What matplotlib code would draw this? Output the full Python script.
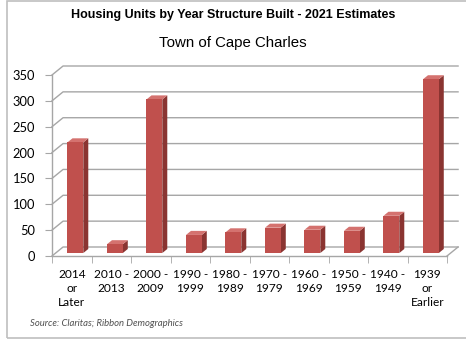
import numpy as np
import matplotlib.pyplot as plt
from matplotlib.patches import Polygon, Rectangle

# housing units by year structure built, Town of Cape Charles
periods = ['2014\nor\nLater', '2010 -\n2013', '2000 -\n2009', '1990 -\n1999',
           '1980 -\n1989', '1970 -\n1979', '1960 -\n1969', '1950 -\n1959',
           '1940 -\n1949', '1939\nor\nEarlier']
units = [214, 17, 297, 35, 40, 49, 45, 43, 72, 336]
yticks = [0, 50, 100, 150, 200, 250, 300, 350]

n = len(units)
# fake 3d depth (in data units) and bar placement inside the depth
ddx, ddy = 0.28, 17.4
d0, d1 = 0.33, 0.78
bw = 0.40

front = '#C0504D'
side = '#8A3431'
top = '#D4726F'
grid = '#A6A6A6'

fig = plt.figure(figsize=(4.66, 3.39), dpi=100)
fig.patches.append(Rectangle((7 / 466, 0.003), 1.2, 0.994, transform=fig.transFigure,
                             fill=False, ec='#BFBFBF', lw=1.2))
ax = fig.add_axes([52 / 466, 1 - 256 / 339, 395 / 466, 181 / 339])
ax.set_xlim(0, n)
ax.set_ylim(0, 350)
ax.patch.set_visible(False)
for s in ['top', 'right']:
    ax.spines[s].set_visible(False)
for s in ['left', 'bottom']:
    ax.spines[s].set_color(grid)
    ax.spines[s].set_linewidth(1)

# walls: gridlines on the left wall and the back wall
for v in yticks:
    ax.plot([0, ddx, n + ddx], [v, v + ddy, v + ddy], color=grid, lw=1, clip_on=False, zorder=1)
# floor right edge
ax.plot([n, n + ddx], [0, ddy], color=grid, lw=1, clip_on=False, zorder=1)

# bars with side and top faces
for i, v in enumerate(units):
    x0 = i + 0.5 - bw / 2 + d0 * ddx
    x1 = x0 + bw
    y0 = d0 * ddy
    sx = (d1 - d0) * ddx
    sy = (d1 - d0) * ddy
    ax.add_patch(Polygon([(x1, y0), (x1 + sx, y0 + sy), (x1 + sx, y0 + sy + v), (x1, y0 + v)],
                         closed=True, fc=side, ec='none', zorder=3, clip_on=False))
    ax.add_patch(Polygon([(x0, y0 + v), (x1, y0 + v), (x1 + sx, y0 + v + sy), (x0 + sx, y0 + v + sy)],
                         closed=True, fc=top, ec='none', zorder=3, clip_on=False))
    ax.bar(x0, v, width=bw, bottom=y0, align='edge', color=front, zorder=4, clip_on=False)

ax.set_yticks(yticks)
ax.set_yticklabels([str(t) for t in yticks], family='Lato', fontsize=9.3)
ax.tick_params(axis='y', length=5, color=grid, pad=7)
ax.set_xticks(np.arange(n) + 0.5)
ax.set_xticklabels(periods, family='Lato', fontsize=8.6, linespacing=1.35)
ax.set_xticks(np.arange(n + 1), minor=True)
ax.tick_params(axis='x', which='major', length=0, pad=9)
ax.tick_params(axis='x', which='minor', length=5, color=grid)

fig.text(0.5, 1 - 15 / 339, 'Housing Units by Year Structure Built - 2021 Estimates',
         ha='center', va='center', family='Liberation Sans', weight='bold', fontsize=9.0)
fig.text(0.5, 1 - 43 / 339, 'Town of Cape Charles',
         ha='center', va='center', family='Liberation Sans', fontsize=10.8)
fig.text(30 / 466, 1 - 323 / 339, 'Source: Claritas; Ribbon Demographics',
         ha='left', va='center', family='Lato', style='italic', fontsize=6.8, color='#505050')

fig.savefig('out.png', dpi=100)
